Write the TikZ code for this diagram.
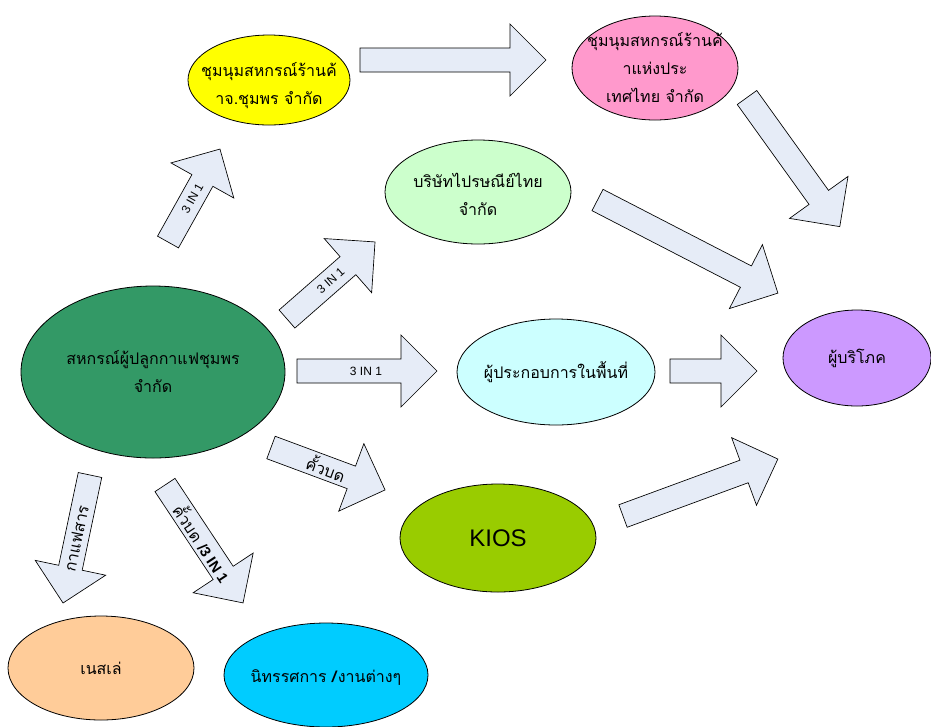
\documentclass[tikz,border=0pt]{standalone}
\usepackage{fontspec}
\setmainfont{Liberation Sans}
\newfontfamily\thaifont[Script=Thai]{Loma}
\usetikzlibrary{shapes.geometric}
\definecolor{arrowfill}{RGB}{230,236,247}
\definecolor{cyellow}{RGB}{255,255,0}
\definecolor{cpink}{RGB}{255,153,204}
\definecolor{clgreen}{RGB}{204,255,204}
\definecolor{cdgreen}{RGB}{51,153,102}
\definecolor{clcyan}{RGB}{204,255,255}
\definecolor{cpurple}{RGB}{204,153,255}
\definecolor{colive}{RGB}{153,204,0}
\definecolor{cpeach}{RGB}{255,204,153}
\definecolor{cblue}{RGB}{0,204,255}
\tikzset{
  ell/.style 2 args={ellipse, draw=black, line width=0.6pt, minimum width=#1*0.75pt, minimum height=#2*0.75pt, inner sep=0pt},
  thaitext/.style={font=\thaifont\fontsize{12}{21}\selectfont, align=center, text=black, inner sep=0pt},
  barrow/.style={draw=black, line width=0.5pt, fill=arrowfill, line join=miter},
  alabel/.style={font=\fontsize{9}{10}\selectfont, inner sep=0pt},
  athai/.style={font=\thaifont\fontsize{12}{13}\selectfont, inner sep=0pt}
}
\newcommand{\blockarrow}[7]{%
  \begin{scope}[shift={(#1)}, rotate=#2]
    \draw[barrow] (0,-12) -- ({#3-36},-12) -- ({#3-36},-36) -- (#3,0) -- ({#3-36},36) -- ({#3-36},12) -- (0,12) -- cycle;
    \node[#7, rotate=#5] (#1lab) at (#4,0) {#6};
  \end{scope}}
\begin{document}
\begin{tikzpicture}[x=0.75pt, y=-0.75pt]
\useasboundingbox[fill=white] (0,0) rectangle (931,726);

% ellipses
\node[ell={162}{90}, fill=cyellow] (yellow) at (269,80) {};
\node[thaitext] (yellowtxt) at (269,86) {ชุมนุมสหกรณ์ร้านค้\\าจ.ชุมพร จำกัด};
\node[ell={166}{104}, fill=cpink] (pink) at (655,68) {};
\node[thaitext] (pinktxt) at (655,68) {ชุมนุมสหกรณ์ร้านค้\\าแห่งประ\\เทศไทย จำกัด};
\node[ell={186}{104}, fill=clgreen] (post) at (478,192) {};
\node[thaitext] (posttxt) at (478,194) {บริษัทไปรษณีย์ไทย\\จำกัด};
\node[ell={264}{172}, fill=cdgreen] (main) at (153,372) {};
\node[thaitext] (maintxt) at (153,372) {สหกรณ์ผู้ปลูกกาแฟชุมพร\\จำกัด};
\node[ell={198}{106}, fill=clcyan] (local) at (556,372) {};
\node[thaitext] (localtxt) at (556,372) {ผู้ประกอบการในพื้นที่};
\node[ell={148}{96}, fill=cpurple] (consumer) at (857,358) {};
\node[thaitext] (consumertxt) at (857,358) {ผู้บริโภค};
\node[ell={196}{108}, fill=colive] (kios) at (498,538) {};
\node[font=\fontsize{18}{20}\selectfont, inner sep=0pt] (kiostxt) at (498,538) {KIOS};
\node[ell={186}{104}, fill=cpeach] (nestle) at (101,668) {};
\node[thaitext] (nestletxt) at (101,668) {เนสเล่};
\node[ell={204}{104}, fill=cblue] (expo) at (326,675) {};
\node[thaitext] (expotxt) at (326,678) {นิทรรศการ \textbf{/}งานต่างๆ};

% block arrows: tail point, angle, length, label x, label rotation, label, label style
\coordinate (t1) at (360,60);
\coordinate (t2) at (747,97.5);
\coordinate (t3) at (597.5,200);
\coordinate (t4) at (670,371);
\coordinate (t5) at (168,242);
\coordinate (t6) at (287,319);
\coordinate (t7) at (297,371);
\coordinate (t8) at (271,447.5);
\coordinate (t9) at (90,475);
\coordinate (t10) at (165,485);
\coordinate (t11) at (623,516);

\blockarrow{t1}{0}{186}{0}{0}{}{alabel}
\blockarrow{t2}{-54.3}{159}{0}{0}{}{alabel}
\blockarrow{t3}{-27.3}{203}{0}{0}{}{alabel}
\blockarrow{t4}{0}{87}{0}{0}{}{alabel}
\blockarrow{t5}{60.8}{106.5}{50}{60.8}{3 IN 1}{alabel}
\blockarrow{t6}{41.2}{117}{58}{41.2}{3 IN 1}{alabel}
\blockarrow{t7}{0}{140}{69}{0}{3 IN 1}{alabel}
\blockarrow{t8}{-20.4}{121.7}{59}{-20.4}{คั้วบด}{athai}
\blockarrow{t9}{-101.9}{130.8}{65}{78.1}{กาแฟสาร}{athai}
\blockarrow{t10}{-56.5}{141.4}{69}{-56.5}{คั้วบด {\fontspec{Liberation Sans}\fontsize{11}{12}\selectfont\bfseries /3 IN 1}}{athai}
\blockarrow{t11}{20.2}{165}{0}{0}{}{alabel}
\end{tikzpicture}
\end{document}
